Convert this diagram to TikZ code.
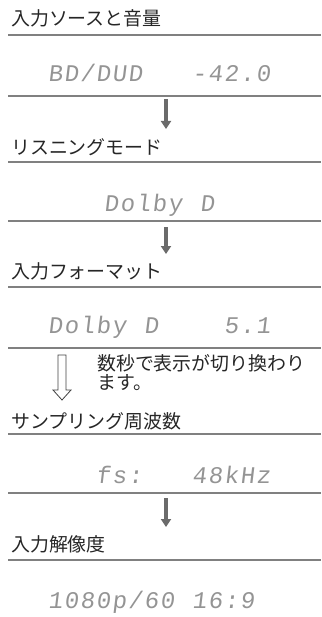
\documentclass[tikz,border=0pt]{standalone}
\usepackage{fontspec}
\usepackage{tikz}
\usetikzlibrary{arrows.meta}
\newfontfamily\jpfont{Noto Sans CJK JP}
\newfontfamily\lcdfont[FakeSlant=0.12]{Liberation Mono}
% one display cell per character, * stands for an empty cell
\def\lcd#1{\lcdnext#1\relax}
\def\lcdnext#1{\ifx#1\relax\else\ifx#1*\hspace*{16bp}\else\makebox[16bp][l]{#1}\fi\expandafter\lcdnext\fi}

\begin{document}
\begin{tikzpicture}[x=1bp, y=-1bp,
	every node/.style={inner sep=0pt},
	heading/.style={anchor=base west, text=black!85, font=\jpfont\fontsize{19}{19.5}\selectfont},
	display/.style={anchor=base west, text=black!42, font=\lcdfont\fontsize{24}{28}\selectfont},
	rule/.style={draw=black!50, line width=1.5bp},
	nextarrow/.style={draw=black!58, line width=3.6bp, -{Triangle[width=10bp,length=8bp]}},
	hollowarrow/.style={draw=black!75, line width=0.8bp}]
	\useasboundingbox (0,0) rectangle (321,617);
	% rules under every heading and every display line
	\foreach \y in {35,96,162,221,287,348,434,493,560}
		\draw[rule] (8,\y) -- (321,\y);
	% headings
	\node[heading] (src) at (11,26) {入力ソースと音量};
	\node[heading] (mode) at (11,155) {リスニングモード};
	\node[heading] (fmt) at (11,278) {入力フォーマット};
	\node[heading] (fs) at (11,428) {サンプリング周波数};
	\node[heading] (res) at (11,551) {入力解像度};
	% what the display shows
	\node[display] (dsrc) at (48,82) {\lcd{BD/DUD***-42.0}};
	\node[display] (dmode) at (104,211) {\lcd{Dolby*D}};
	\node[display] (dfmt) at (48,333) {\lcd{Dolby*D****5.1}};
	\node[display] (dfs) at (48,483) {\lcd{***fs:***48kHz}};
	\node[display] (dres) at (48,608) {\lcd{1080p/60*16:9}};
	% arrows between the steps
	\foreach \a/\top/\bot in {a/99/129, b/227/254, c/498/527} {
		\coordinate (\a top) at (166,\top);
		\coordinate (\a bot) at (166,\bot);
		\draw[nextarrow] (\a top) -- (\a bot);
	}
	\draw[hollowarrow] (58,355) -- (66,355) -- (66,390) -- (71,390) -- (62,400)
		-- (53,390) -- (58,390) -- cycle;
	\node[heading, anchor=north west, align=left] (note) at (97,354) {数秒で表示が切り換わり\\ます。};
\end{tikzpicture}
\end{document}
